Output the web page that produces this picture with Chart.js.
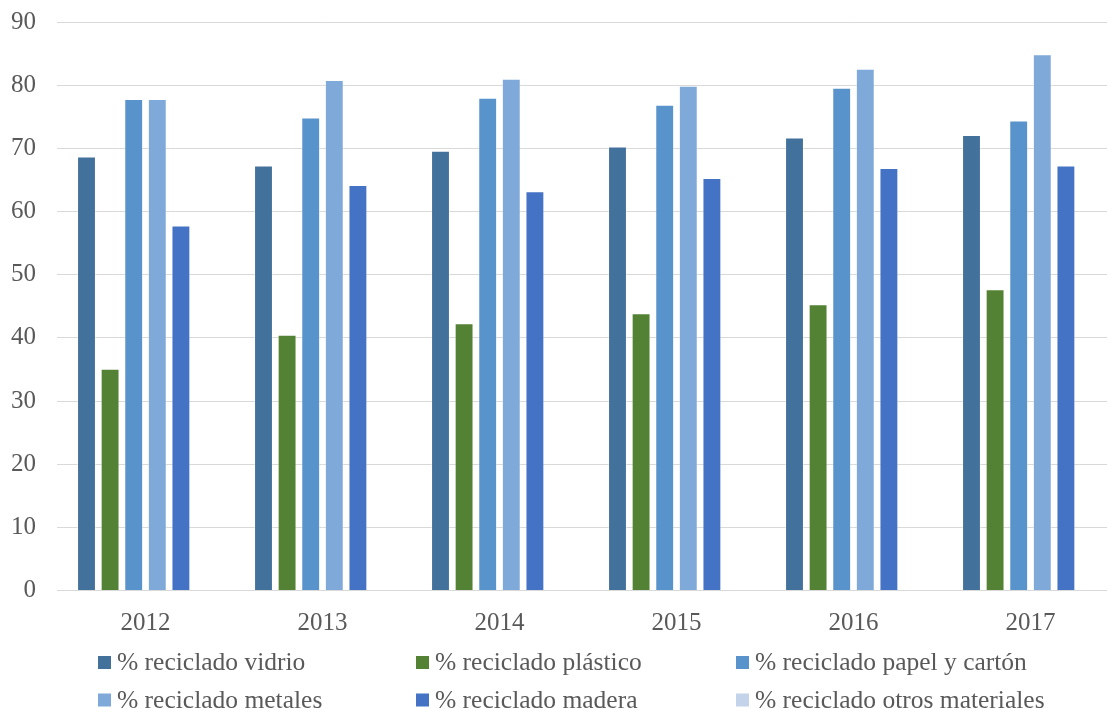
<!DOCTYPE html>
<html lang="es">
<head>
<meta charset="utf-8">
<title>Porcentaje de reciclado por material</title>
<script src="https://cdn.jsdelivr.net/npm/chart.js@4/dist/chart.umd.min.js"></script>
<style>
  html, body { margin: 0; padding: 0; background: #fff; overflow: hidden; }
  #wrap { width: 1125px; height: 708px; }
</style>
</head>
<body>
<div id="wrap"><canvas id="chart" width="1125" height="708"></canvas></div>
<script>
// años
const years = ['2012', '2013', '2014', '2015', '2016', '2017'];

// % de reciclado por material
const vidrio  = [68.7, 67.3, 69.6, 70.3, 71.7, 72.1];
const plastico = [35.1, 40.5, 42.3, 43.9, 45.3, 47.7];
const papel   = [77.8, 74.9, 78.0, 76.9, 79.6, 74.4];
const metales = [77.8, 80.8, 81.0, 79.9, 82.6, 84.9];
const madera  = [57.8, 64.2, 63.2, 65.3, 66.9, 67.3];
const otros   = [null, null, null, null, null, null];

const seriesNames = [
  '% reciclado vidrio',
  '% reciclado plástico',
  '% reciclado papel y cartón',
  '% reciclado metales',
  '% reciclado madera',
  '% reciclado otros materiales'
];
const yTicks = [0, 10, 20, 30, 40, 50, 60, 70, 80, 90];

const colores = ['#42719B', '#548235', '#5894CB', '#7EA9D9', '#4472C4', '#C3D4EA'];
const FUENTE = '"Liberation Serif", "Times New Roman", serif';
const GRIS = '#595959';

// leyenda en columnas fijas, como la de Excel
const leyendaColumnas = {
  id: 'leyendaColumnas',
  afterDraw(chart) {
    const ctx = chart.ctx;
    const colX = [98, 416, 736];
    const filaY = [662.5, 700];
    ctx.save();
    ctx.font = '25.5px ' + FUENTE;
    ctx.textBaseline = 'middle';
    ctx.textAlign = 'left';
    chart.data.datasets.forEach((ds, i) => {
      const x = colX[i % 3];
      const y = filaY[Math.floor(i / 3)];
      ctx.fillStyle = ds.backgroundColor;
      ctx.fillRect(x, y - 6.5, 13, 13);
      ctx.fillStyle = GRIS;
      ctx.fillText(ds.label, x + 19, y + 1);
    });
    ctx.restore();
  }
};

const valores = [vidrio, plastico, papel, metales, madera, otros];

new Chart(document.getElementById('chart'), {
  type: 'bar',
  data: {
    labels: years,
    datasets: valores.map((v, i) => ({
      label: seriesNames[i],
      data: v,
      backgroundColor: colores[i],
      borderColor: 'rgba(255,255,255,0.35)',
      borderWidth: 1,
      categoryPercentage: 0.8,
      barPercentage: 0.8
    }))
  },
  options: {
    responsive: false,
    animation: false,
    devicePixelRatio: 1,
    layout: { padding: { top: 22, right: 6, bottom: 70, left: 0 } },
    plugins: {
      legend: { display: false },
      tooltip: { enabled: false }
    },
    scales: {
      x: {
        grid: { display: false, drawTicks: false },
        border: { display: true, color: '#d9d9d9', width: 1 },
        ticks: { color: GRIS, font: { family: FUENTE, size: 25 }, padding: 18 },
        afterFit(scale) {
          scale.height = 47.5;
          scale.paddingLeft = 0;
          scale.paddingRight = 0;
        }
      },
      y: {
        min: 0,
        max: 90,
        afterBuildTicks(scale) { scale.ticks = yTicks.map(v => ({ value: v })); },
        grid: { color: '#d9d9d9', lineWidth: 1, drawTicks: false },
        border: { display: false },
        ticks: { color: GRIS, font: { family: FUENTE, size: 25 }, padding: 21 },
        afterFit(scale) {
          scale.width = 57;
          scale.paddingTop = 0;
          scale.paddingBottom = 0;
        }
      }
    }
  },
  plugins: [leyendaColumnas]
});
</script>
</body>
</html>
